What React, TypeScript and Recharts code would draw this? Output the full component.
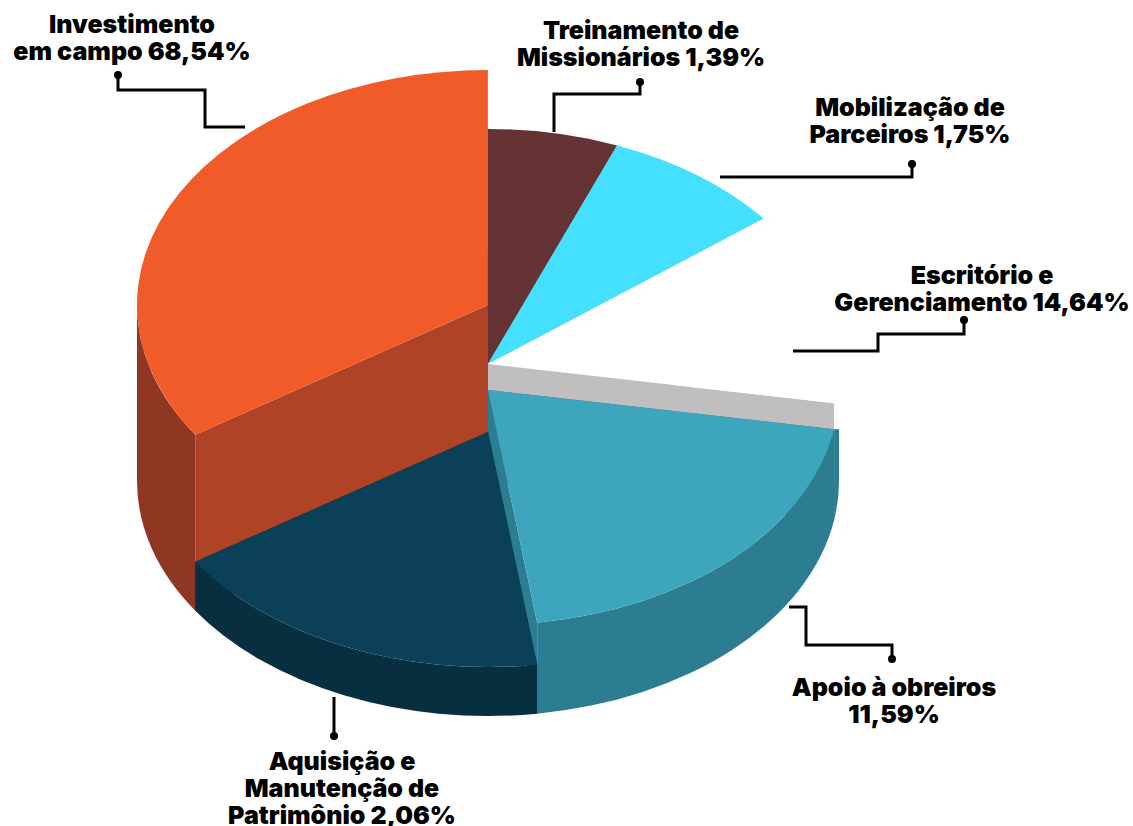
import React from 'react';
import { PieChart, Pie, Sector } from 'recharts';

// Order is the paint order too: orange at the back, navy at the front.
const categories = [
  'Investimento em campo',
  'Treinamento de Missionários',
  'Mobilização de Parceiros',
  'Escritório e Gerenciamento',
  'Apoio à obreiros',
  'Aquisição e Manutenção de Patrimônio',
];
// what the labels print
const labelPercents = [68.54, 1.39, 1.75, 14.64, 11.59, 2.06];
// the drawing does not follow the printed numbers, these are the shares as drawn
const drawnShares = [34.3, 6, 8.39, 13.28, 20.1, 17.93];
const labelLines = [
  ['Investimento', 'em campo'],
  ['Treinamento de', 'Missionários'],
  ['Mobilização de', 'Parceiros'],
  ['Escritório e', 'Gerenciamento'],
  ['Apoio à obreiros', ''],
  ['Aquisição e', 'Manutenção de', 'Patrimônio'],
];

const topColors = ['#f15a29', '#653334', '#45e0ff', '#ffffff', '#3ea6bc', '#0a4158'];
const wallColors = ['#8f3722', 'none', 'none', 'none', '#2c7d91', '#082f40'];
const faceColors = ['#b04225', '#653334', '#45e0ff', '#c0bebf', '#2c7d91', '#082f40'];
const topLifts = [-59, 0, 0, 0, 26, 68];

const labelAnchors = [
  { x: 132, y: 33 },
  { x: 641, y: 39 },
  { x: 910, y: 116 },
  { x: 982, y: 284 },
  { x: 894, y: 696 },
  { x: 342, y: 770 },
];
const leaders = [
  '118,75 118,90 205,90 205,127 245,127',
  '640,82 640,94 554,94 554,132',
  '912,164 912,177 720,177',
  '964,320 964,334 878,334 878,351 793,351',
  '892,659 892,645 806,645 806,607 789,607',
  '334,736 334,697',
];

const CX = 488;
const CY = 364;
const RX = 351;
const RY = 235;
const BASE_Y = 481;

const rows = categories.map((name, i) => ({ name, share: drawnShares[i] }));

const pt = (angle: number, y0: number) => {
  const t = (angle * Math.PI) / 180;
  return [CX + RX * Math.cos(t), y0 - RY * Math.sin(t)];
};

const Slice = (props: any) => {
  const i = categories.indexOf(props.name);
  const { startAngle: s, endAngle: e } = props;
  const topY = CY + topLifts[i];
  const a = pt(s, topY);
  const b = pt(e, topY);
  const a2 = pt(s, BASE_Y);
  const b2 = pt(e, BASE_Y);
  const face = (p: number[], q: number[]) =>
    `M${CX} ${topY}L${p[0]} ${p[1]}L${q[0]} ${q[1]}L${CX} ${BASE_Y}Z`;

  // only the lower half of the rim can be seen
  let hi = Math.min(s, 0);
  let lo = Math.max(e, -180);
  if (hi <= lo) {
    hi = Math.min(s, 360);
    lo = Math.max(e, 180);
  }
  let wall = '';
  let flare = '';
  if (hi > lo) {
    const p = pt(hi, topY);
    const q = pt(lo, topY);
    const p2 = pt(hi, BASE_Y);
    const q2 = pt(lo, BASE_Y);
    wall = `M${p[0]} ${p[1]}A${RX} ${RY} 0 0 1 ${q[0]} ${q[1]}L${q2[0]} ${q2[1]}A${RX} ${RY} 0 0 0 ${p2[0]} ${p2[1]}Z`;
    if (hi < 0 && hi > -30) {
      flare = `M${p[0]} ${p[1]}L${CX + RX} ${p[1]}L${CX + RX} ${BASE_Y}A${RX} ${RY} 0 0 1 ${p2[0]} ${p2[1]}Z`;
    }
  }

  return (
    <g>
      <path d={face(a, a2)} fill={faceColors[i]} />
      <path d={face(b, b2)} fill={faceColors[i]} />
      {wall && <path d={wall} fill={wallColors[i]} />}
      {flare && <path d={flare} fill={wallColors[i]} />}
      <g transform={`translate(0 ${topY}) scale(1 ${RY / RX})`}>
        <Sector cx={CX} cy={0} innerRadius={0} outerRadius={RX} startAngle={s} endAngle={e} fill={topColors[i]} stroke="none" />
      </g>
    </g>
  );
};

const pctText = (v: number) => v.toFixed(2).replace('.', ',') + '%';

const App = () => {
  return (
    <div style={{ position: 'absolute', left: 0, top: 0, width: 1133, height: 826, background: '#fff' }}>
      <PieChart width={1133} height={826} margin={{ top: 0, right: 0, bottom: 0, left: 0 }}>
        <Pie
          data={rows}
          dataKey="share"
          nameKey="name"
          cx={CX}
          cy={CY}
          outerRadius={RX}
          startAngle={213.5}
          endAngle={-146.5}
          stroke="none"
          shape={Slice}
          isAnimationActive={false}
        />
      </PieChart>
      {/* leaders and labels sit on top of the white slice, so they get their own svg */}
      <svg width={1133} height={826} style={{ position: 'absolute', left: 0, top: 0 }}>
        {leaders.map((points, i) => {
          const [dx, dy] = points.split(' ')[0].split(',').map(Number);
          return (
            <g key={i}>
              <polyline points={points} fill="none" stroke="#000" strokeWidth={3} />
              <circle cx={dx} cy={dy} r={4} fill="#000" />
            </g>
          );
        })}
        {labelLines.map((lines, i) => (
          <text
            key={i}
            textAnchor="middle"
            fontFamily="Inter, sans-serif"
            fontWeight={900}
            fontSize={25}
            fill="#000"
          >
            {lines.map((line, j) => (
              <tspan key={j} x={labelAnchors[i].x} y={labelAnchors[i].y + j * 27}>
                {j === lines.length - 1 ? `${line} ${pctText(labelPercents[i])}`.trim() : line}
              </tspan>
            ))}
          </text>
        ))}
      </svg>
    </div>
  );
};

export default App;
